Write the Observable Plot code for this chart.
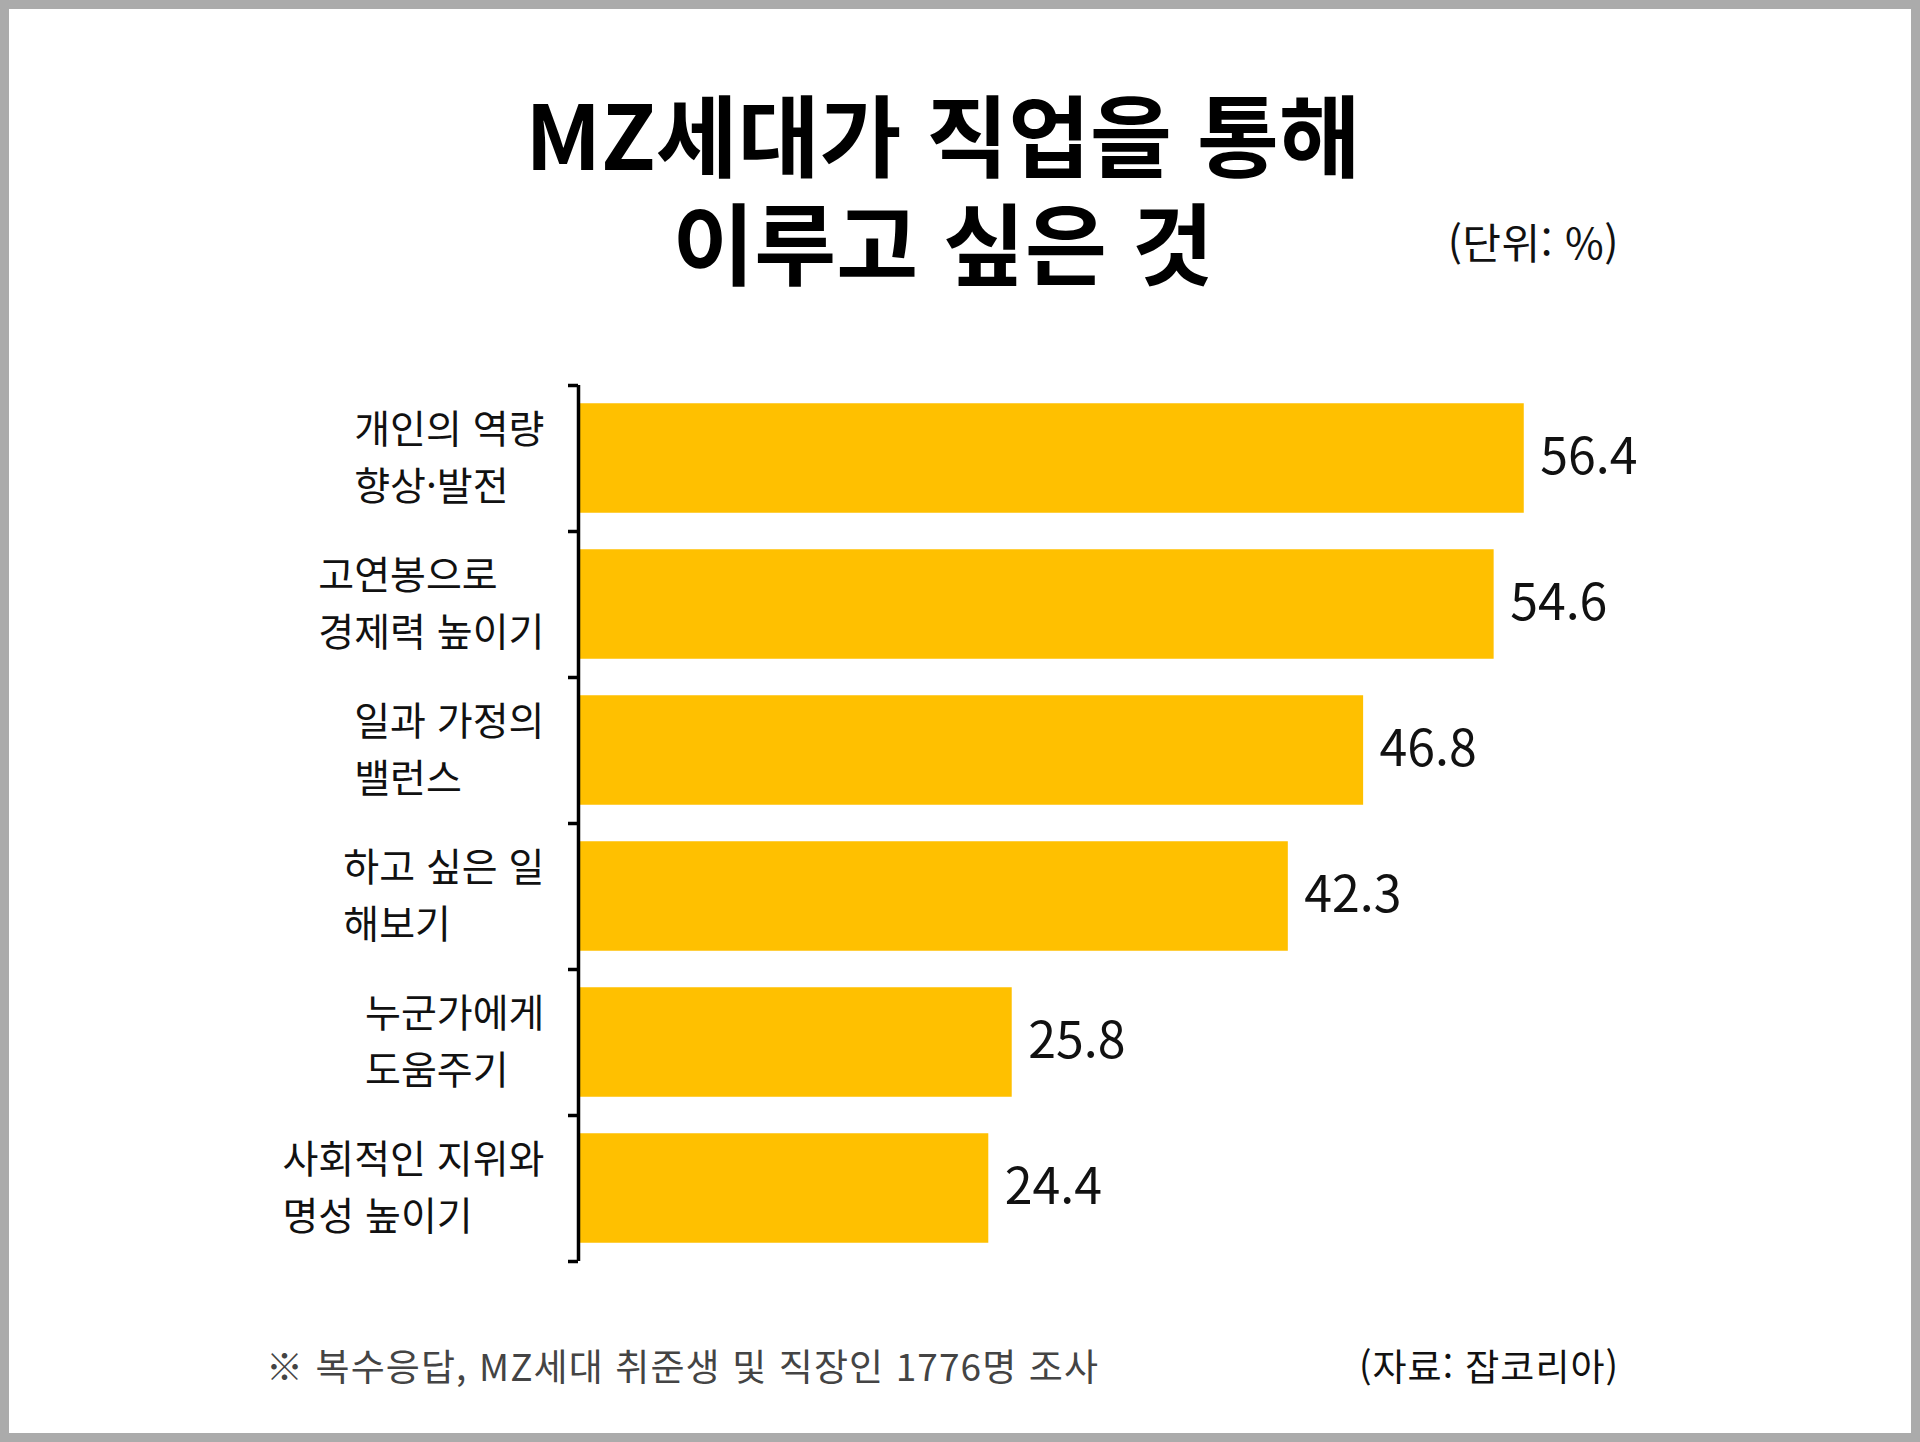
<!DOCTYPE html>
<html lang="ko">
<head>
<meta charset="utf-8">
<script src="https://cdn.jsdelivr.net/npm/d3@7"></script>
<script src="https://cdn.jsdelivr.net/npm/@observablehq/plot@0.6"></script>
<style>
  html, body { margin: 0; padding: 0; background: #fff; }
  #frame { position: relative; width: 1920px; height: 1442px; overflow: hidden; background: #fff;
           font-family: "Noto Sans CJK KR", "Noto Sans", sans-serif; color: #111; }
  #border { position: absolute; inset: 0; border: 9px solid #ababab; pointer-events: none; z-index: 5; }
  .title { position: absolute; left: 0; width: 1886px; text-align: center;
           font-weight: 700; font-size: 89px; line-height: 89px; letter-spacing: 0px; color: #000; white-space: nowrap; }
  #t1 { top: 87px; }
  #t2 { top: 195px; }
  #unit { position: absolute; right: 301px; top: 220px; font-size: 42px; line-height: 42px; letter-spacing: 0.5px; color: #111; }
  #note { position: absolute; left: 266px; top: 1347px; font-size: 37px; line-height: 37px; letter-spacing: 1.1px; color: #444; }
  #source { position: absolute; right: 301px; top: 1347px; font-size: 37px; line-height: 37px; letter-spacing: 1px; color: #111; }
  #chart { position: absolute; left: 0; top: 330px; }
</style>
</head>
<body>
<div id="frame">
  <div class="title" id="t1">MZ세대가 직업을 통해</div>
  <div class="title" id="t2">이루고 싶은 것</div>
  <div id="unit">(단위: %)</div>
  <div id="chart"></div>
  <div id="note">※ 복수응답, MZ세대 취준생 및 직장인 1776명 조사</div>
  <div id="source">(자료: 잡코리아)</div>
  <div id="border"></div>
</div>
<script>
// ---- data ----
const categories = [
  "개인의 역량\n향상·발전",
  "고연봉으로\n경제력 높이기",
  "일과 가정의\n밸런스",
  "하고 싶은 일\n해보기",
  "누군가에게\n도움주기",
  "사회적인 지위와\n명성 높이기"
];
const values = [56.4, 54.6, 46.8, 42.3, 25.8, 24.4];
const data = categories.map((c, i) => ({label: c, value: values[i]}));

// ---- layout ----
const W = 1920, H = 1000;
const mL = 580, mR = 336, mT = 55, mB = 69;
const xMax = 60;
const pxPerUnit = (W - mL - mR) / xMax;
const step = (H - mT - mB) / categories.length;
const tickLen = 10 / pxPerUnit;

const plot = Plot.plot({
  width: W,
  height: H,
  marginLeft: mL,
  marginRight: mR,
  marginTop: mT,
  marginBottom: mB,
  style: {fontFamily: "'Noto Sans CJK KR', 'Noto Sans', sans-serif", background: "transparent", color: "#111", overflow: "visible"},
  x: {domain: [0, xMax], axis: null},
  y: {type: "band", domain: categories, paddingInner: 0.25, paddingOuter: 0.125, axis: null, round: false},
  marks: [
    Plot.barX(data, {x: "value", y: "label", fill: "#FFC000"}),
    Plot.ruleX([0], {stroke: "#000", strokeWidth: 3.5, dx: -2}),
    Plot.ruleY(categories, {y: d => d, x1: -tickLen, x2: 0, dx: -2, dy: -step / 2, stroke: "#000", strokeWidth: 3.5}),
    Plot.ruleY([categories[categories.length - 1]], {y: d => d, x1: -tickLen, x2: 0, dx: -2, dy: step / 2, stroke: "#000", strokeWidth: 3.5}),
    Plot.text(data, {x: 0, y: "label", text: "label", textAnchor: "end", dx: -36, dy: -5, fontSize: 39, lineHeight: 1.45, fill: "#111", ariaDescription: "ylabels"}),
    Plot.text(data, {x: "value", y: "label", text: d => d.value.toFixed(1), textAnchor: "start", dx: 16, dy: -1, fontSize: 50, fill: "#111"})
  ]
});
document.getElementById("chart").appendChild(plot);

// left-align lines within each right-aligned label block
const g = plot.querySelector('g[aria-description="ylabels"]');
if (g) {
  g.querySelectorAll("text").forEach(t => {
    const spans = t.querySelectorAll("tspan");
    if (!spans.length) return;
    let mx = 0;
    spans.forEach(s => { mx = Math.max(mx, s.getComputedTextLength()); });
    t.setAttribute("text-anchor", "start");
    t.style.textAnchor = "start";
    spans.forEach(s => s.setAttribute("x", -mx));
  });
}
</script>
</body>
</html>
